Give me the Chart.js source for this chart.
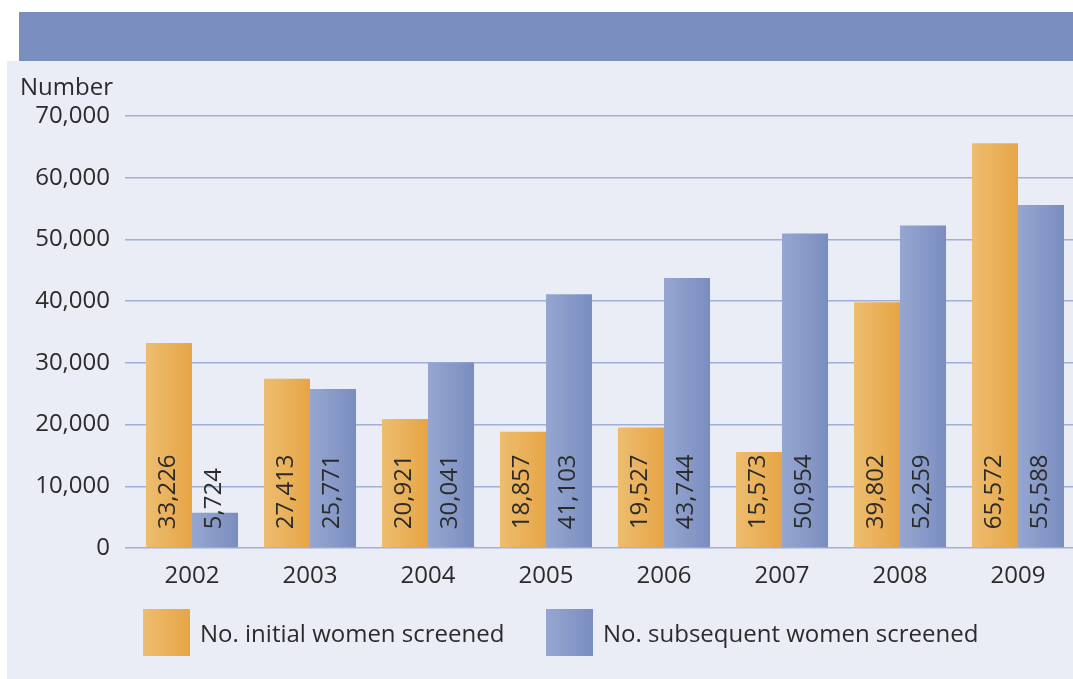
<!DOCTYPE html>
<html>
<head>
<meta charset="utf-8">
<script src="https://cdn.jsdelivr.net/npm/chart.js@4.4.0/dist/chart.umd.min.js"></script>
<style>
  html, body { margin: 0; padding: 0; background: #ffffff; overflow: hidden; }
  body { width: 1073px; height: 679px; position: relative; font-family: "Open Sans", sans-serif; color: #2b2b2b; }
  #band { position: absolute; left: 19px; top: 12px; width: 1054px; height: 49px; background: #7b8ec0; }
  #panel { position: absolute; left: 7px; top: 61px; width: 1066px; height: 618px; background: #eaedf5; }
  #wrap { position: absolute; left: 0; top: 61px; width: 1085px; height: 618px; }
  #yTitle { position: absolute; left: 20px; top: 69px; font-size: 24px; }
  .legend { position: absolute; top: 609px; height: 47px; display: flex; align-items: center; font-size: 24px; }
  .legend span.box { display: inline-block; width: 47px; height: 47px; margin-right: 10px; }
</style>
</head>
<body>
<div id="band"></div>
<div id="panel"></div>
<div id="wrap"><canvas id="chart" width="1085" height="618"></canvas></div>
<div id="yTitle">Number</div>
<div class="legend" style="left:143px"><span class="box" style="background:linear-gradient(to right,#eebd70,#e6a545)"></span>No. initial women screened</div>
<div class="legend" style="left:546px"><span class="box" style="background:linear-gradient(to right,#95a7d0,#7a8dc0)"></span>No. subsequent women screened</div>
<script>
// данные графика
const years = ["2002", "2003", "2004", "2005", "2006", "2007", "2008", "2009"];
const initialWomen = [33226, 27413, 20921, 18857, 19527, 15573, 39802, 65572];
const subsequentWomen = [5724, 25771, 30041, 41103, 43744, 50954, 52259, 55588];
const seriesNames = ["No. initial women screened", "No. subsequent women screened"];

const fmt = new Intl.NumberFormat("en-US");
const gradColors = [["#eebd70", "#e6a545"], ["#95a7d0", "#7a8dc0"]];

// горизонтальный градиент для каждого столбца (options у столбцов общие, поэтому копируем)
const barGradient = {
  id: "barGradient",
  beforeDatasetDraw(chart, args) {
    const ctx = chart.ctx;
    const cols = gradColors[args.index];
    args.meta.data.forEach(bar => {
      const g = ctx.createLinearGradient(bar.x - bar.width / 2, 0, bar.x + bar.width / 2, 0);
      g.addColorStop(0, cols[0]);
      g.addColorStop(1, cols[1]);
      bar.options = Object.assign({}, bar.options, { backgroundColor: g });
    });
  }
};

// подписи значений внутри столбцов, повёрнутые
const barLabels = {
  id: "barLabels",
  afterDatasetsDraw(chart) {
    const ctx = chart.ctx;
    ctx.save();
    ctx.font = "24px 'Open Sans'";
    ctx.fillStyle = "#2b2b2b";
    ctx.textAlign = "left";
    ctx.textBaseline = "middle";
    chart.data.datasets.forEach((ds, i) => {
      chart.getDatasetMeta(i).data.forEach((bar, j) => {
        ctx.save();
        ctx.translate(bar.x - 1, bar.base - 18);
        ctx.rotate(-Math.PI / 2);
        ctx.fillText(fmt.format(ds.data[j]), 0, 0);
        ctx.restore();
      });
    });
    ctx.restore();
  }
};

new Chart(document.getElementById("chart"), {
  type: "bar",
  data: {
    labels: years,
    datasets: [
      { label: seriesNames[0], data: initialWomen, backgroundColor: "#e9b05a" },
      { label: seriesNames[1], data: subsequentWomen, backgroundColor: "#8799c8" }
    ]
  },
  options: {
    responsive: false,
    animation: false,
    layout: { padding: { top: 55, right: 8, bottom: 91, left: 0 } },
    datasets: { bar: { categoryPercentage: 0.78, barPercentage: 1.0 } },
    plugins: { legend: { display: false }, tooltip: { enabled: false } },
    scales: {
      x: {
        grid: { display: false },
        border: { display: false },
        ticks: { color: "#2b2b2b", font: { family: "Open Sans", size: 24 }, padding: 6 },
        afterFit(scale) { scale.height = 40; }
      },
      y: {
        min: 0,
        max: 70000,
        ticks: {
          stepSize: 10000,
          color: "#2b2b2b",
          font: { family: "Open Sans", size: 24 },
          padding: 15,
          callback: v => fmt.format(v)
        },
        grid: { color: "#9fafd7", lineWidth: 1.5, tickLength: 8, tickColor: "#9fafd7" },
        border: { display: false },
        afterFit(scale) { scale.width = 133; }
      }
    }
  },
  plugins: [barGradient, barLabels]
});
</script>
</body>
</html>
